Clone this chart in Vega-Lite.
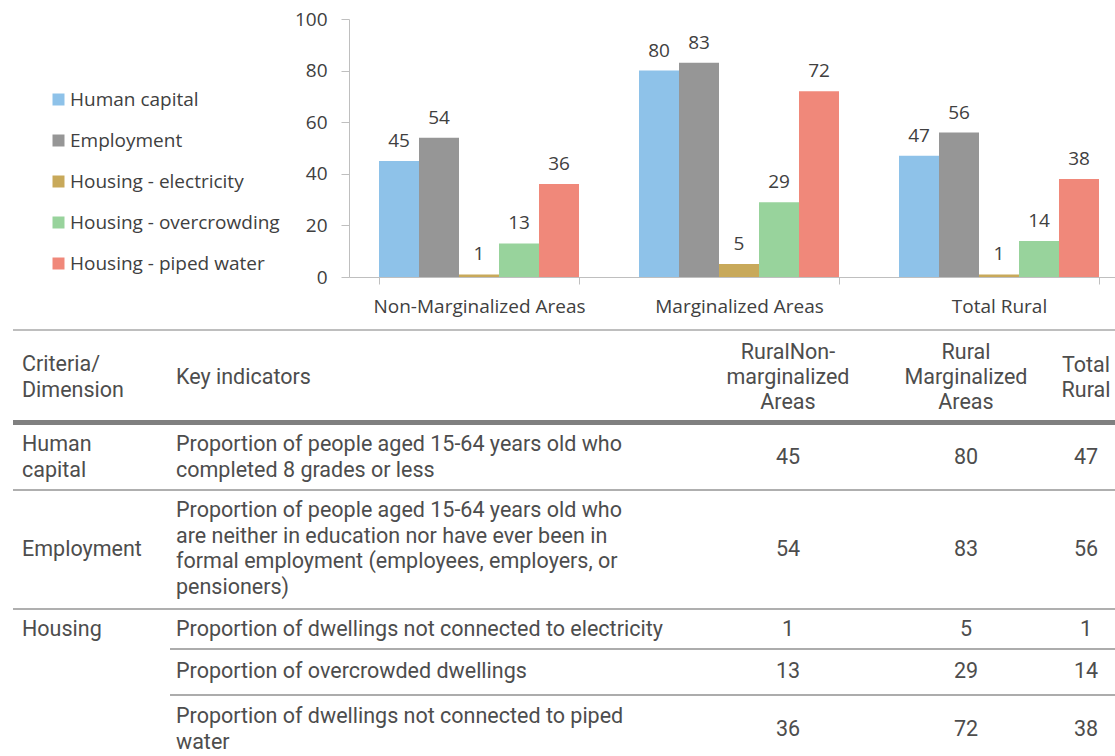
{
  "$schema": "https://vega.github.io/schema/vega-lite/v6.json",
  "padding": {"left": 10, "top": 10, "right": 0, "bottom": 0},
  "spacing": 5,
  "config": {"view": {"stroke": null}, "font": "Open Sans"},
  "resolve": {"scale": {"color": "independent"}, "legend": {"color": "independent"}},
  "datasets": {
    "bars": [
      {"area": "Non-Marginalized Areas", "indicator": "Human capital", "value": 45},
      {"area": "Non-Marginalized Areas", "indicator": "Employment", "value": 54},
      {"area": "Non-Marginalized Areas", "indicator": "Housing - electricity", "value": 1},
      {"area": "Non-Marginalized Areas", "indicator": "Housing - overcrowding", "value": 13},
      {"area": "Non-Marginalized Areas", "indicator": "Housing - piped water", "value": 36},
      {"area": "Marginalized Areas", "indicator": "Human capital", "value": 80},
      {"area": "Marginalized Areas", "indicator": "Employment", "value": 83},
      {"area": "Marginalized Areas", "indicator": "Housing - electricity", "value": 5},
      {"area": "Marginalized Areas", "indicator": "Housing - overcrowding", "value": 29},
      {"area": "Marginalized Areas", "indicator": "Housing - piped water", "value": 72},
      {"area": "Total Rural", "indicator": "Human capital", "value": 47},
      {"area": "Total Rural", "indicator": "Employment", "value": 56},
      {"area": "Total Rural", "indicator": "Housing - electricity", "value": 1},
      {"area": "Total Rural", "indicator": "Housing - overcrowding", "value": 14},
      {"area": "Total Rural", "indicator": "Housing - piped water", "value": 38}
    ],
    "table": [
      {"row": 0, "col": 0, "text": "Criteria/\nDimension"},
      {"row": 0, "col": 1, "text": "Key indicators"},
      {"row": 0, "col": 2, "text": "RuralNon-\nmarginalized\nAreas"},
      {"row": 0, "col": 3, "text": "Rural\nMarginalized\nAreas"},
      {"row": 0, "col": 4, "text": "Total\nRural"},
      {"row": 1, "col": 0, "text": "Human\ncapital"},
      {"row": 1, "col": 1, "text": "Proportion of people aged 15-64 years old who\ncompleted 8 grades or less"},
      {"row": 1, "col": 2, "text": "45"},
      {"row": 1, "col": 3, "text": "80"},
      {"row": 1, "col": 4, "text": "47"},
      {"row": 2, "col": 0, "text": "Employment"},
      {"row": 2, "col": 1, "text": "Proportion of people aged 15-64 years old who\nare neither in education nor have ever been in\nformal employment (employees, employers, or\npensioners)"},
      {"row": 2, "col": 2, "text": "54"},
      {"row": 2, "col": 3, "text": "83"},
      {"row": 2, "col": 4, "text": "56"},
      {"row": 3, "col": 0, "text": "Housing"},
      {"row": 3, "col": 1, "text": "Proportion of dwellings not connected to electricity"},
      {"row": 3, "col": 2, "text": "1"},
      {"row": 3, "col": 3, "text": "5"},
      {"row": 3, "col": 4, "text": "1"},
      {"row": 4, "col": 1, "text": "Proportion of overcrowded dwellings"},
      {"row": 4, "col": 2, "text": "13"},
      {"row": 4, "col": 3, "text": "29"},
      {"row": 4, "col": 4, "text": "14"},
      {"row": 5, "col": 1, "text": "Proportion of dwellings not connected to piped\nwater"},
      {"row": 5, "col": 2, "text": "36"},
      {"row": 5, "col": 3, "text": "72"},
      {"row": 5, "col": 4, "text": "38"}
    ],
    "lines": [
      {"line": 0, "start": 0, "kind": "top"},
      {"line": 1, "start": 0, "kind": "head"},
      {"line": 2, "start": 0, "kind": "row"},
      {"line": 3, "start": 0, "kind": "row"},
      {"line": 4, "start": 1, "kind": "sub"},
      {"line": 5, "start": 1, "kind": "sub"}
    ]
  },
  "vconcat": [
    {
      "width": 1116,
      "height": 258,
      "data": {"name": "bars"},
      "encoding": {
        "x": {
          "field": "area", "type": "nominal", "sort": null,
          "scale": {"range": [336, 1116], "paddingInner": 0.2308, "paddingOuter": 0.1154},
          "axis": {"title": null, "labelAngle": 0, "tickBand": "extent", "tickSize": 7,
                   "domainColor": "#bfbfbf", "tickColor": "#bfbfbf", "labelPadding": 13, "labelLimit": 400,
                   "labelFont": "Open Sans", "labelFontSize": 19, "labelColor": "#404040"}
        },
        "y": {
          "field": "value", "type": "quantitative",
          "scale": {"domain": [0, 100], "nice": false},
          "axis": {"title": null, "values": [0, 20, 40, 60, 80, 100], "grid": false,
                   "domainColor": "#bfbfbf", "tickColor": "#bfbfbf", "tickSize": 8,
                   "labelPadding": 14, "labelFont": "Open Sans", "labelFontSize": 19,
                   "labelColor": "#404040", "offset": -336}
        },
        "xOffset": {"field": "indicator", "type": "nominal", "sort": null}
      },
      "layer": [
        {
          "mark": {"type": "bar"},
          "encoding": {
            "color": {
              "field": "indicator", "type": "nominal", "sort": null,
              "scale": {
                "domain": ["Human capital", "Employment", "Housing - electricity", "Housing - overcrowding", "Housing - piped water"],
                "range": ["#8EC2E9", "#969696", "#C8A95A", "#98D39C", "#F0887A"]
              },
              "legend": {
                "title": null, "orient": "none", "legendX": 36, "legendY": 71,
                "symbolType": "square", "symbolSize": 144, "symbolStrokeWidth": 0,
                "labelFont": "Open Sans", "labelFontSize": 19, "labelColor": "#404040", "labelLimit": 400,
                "rowPadding": 21, "labelOffset": 2, "padding": 0
              }
            }
          }
        },
        {
          "mark": {"type": "text", "baseline": "bottom", "dy": -10, "font": "Open Sans", "fontSize": 19, "color": "#404040"},
          "encoding": {"text": {"field": "value", "type": "quantitative"}}
        }
      ]
    },
    {
      "width": 1105,
      "height": 436,
      "resolve": {"scale": {"x": "independent", "y": "independent", "color": "independent", "strokeWidth": "independent"}},
      "encoding": {
        "x": {"field": "col", "type": "quantitative", "scale": {"domain": [0, 1, 2, 3, 4], "range": [9, 163, 775, 953, 1073], "nice": false, "zero": false}, "axis": null},
        "y": {"field": "row", "type": "quantitative", "scale": {"domain": [0, 1, 2, 3, 4, 5], "range": [57, 137, 228.5, 308.5, 351, 409], "nice": false, "zero": false}, "axis": null},
        "text": {"field": "text", "type": "nominal"}
      },
      "layer": [
        {
          "data": {"name": "lines"},
          "mark": {"type": "rule"},
          "encoding": {
            "x": {"field": "start", "type": "quantitative", "scale": {"domain": [0, 1, 2], "range": [0, 157, 1105], "nice": false, "zero": false}, "axis": null},
            "x2": {"datum": 2},
            "y": {"field": "line", "type": "quantitative", "scale": {"domain": [0, 1, 2, 3, 4, 5], "range": [9, 101.5, 169, 288, 328, 374], "nice": false, "zero": false}, "axis": null},
            "text": null,
            "strokeWidth": {"field": "kind", "type": "nominal", "scale": {"type": "ordinal", "domain": ["top", "head", "row", "sub"], "range": [1.5, 5, 1.5, 1.2]}, "legend": null},
            "color": {"field": "kind", "type": "nominal", "scale": {"type": "ordinal", "domain": ["top", "head", "row", "sub"], "range": ["#a8a8a8", "#808080", "#959595", "#5a5a5a"]}, "legend": null}
          }
        },
        {
          "data": {"name": "table"},
          "transform": [{"filter": "datum.col <= 1 && indexof(datum.text, '\\n') < 0"}],
          "mark": {"type": "text", "align": "left", "baseline": "middle", "lineBreak": "\n", "lineHeight": 25.5, "font": "Roboto", "fontSize": 21.5, "color": "#4d4d4d"}
        },
        {
          "data": {"name": "table"},
          "transform": [{"filter": "datum.col <= 1 && length(split(datum.text, '\\n')) == 2"}],
          "mark": {"type": "text", "align": "left", "baseline": "middle", "dy": -12.75, "lineBreak": "\n", "lineHeight": 25.5, "font": "Roboto", "fontSize": 21.5, "color": "#4d4d4d"}
        },
        {
          "data": {"name": "table"},
          "transform": [{"filter": "datum.col <= 1 && length(split(datum.text, '\\n')) == 4"}],
          "mark": {"type": "text", "align": "left", "baseline": "middle", "dy": -38.25, "lineBreak": "\n", "lineHeight": 25.5, "font": "Roboto", "fontSize": 21.5, "color": "#4d4d4d"}
        },
        {
          "data": {"name": "table"},
          "transform": [{"filter": "datum.col >= 2 && indexof(datum.text, '\\n') < 0"}],
          "mark": {"type": "text", "align": "center", "baseline": "middle", "lineBreak": "\n", "lineHeight": 25, "font": "Roboto", "fontSize": 21.5, "color": "#4d4d4d"}
        },
        {
          "data": {"name": "table"},
          "transform": [{"filter": "datum.col >= 2 && length(split(datum.text, '\\n')) == 2"}],
          "mark": {"type": "text", "align": "center", "baseline": "middle", "dy": -12.5, "lineBreak": "\n", "lineHeight": 25, "font": "Roboto", "fontSize": 21.5, "color": "#4d4d4d"}
        },
        {
          "data": {"name": "table"},
          "transform": [{"filter": "datum.col >= 2 && length(split(datum.text, '\\n')) == 3"}],
          "mark": {"type": "text", "align": "center", "baseline": "middle", "dy": -25, "lineBreak": "\n", "lineHeight": 25, "font": "Roboto", "fontSize": 21.5, "color": "#4d4d4d"}
        }
      ]
    }
  ]
}
